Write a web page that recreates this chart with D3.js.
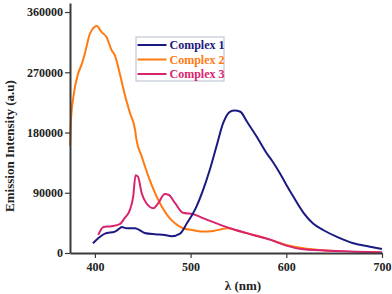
<!DOCTYPE html>
<html>
<head>
<meta charset="utf-8">
<script src="https://cdn.jsdelivr.net/npm/d3@7"></script>
<style>
  html, body { margin: 0; padding: 0; background: #fff; }
  svg { display: block; }
</style>
</head>
<body>
<div id="chart"></div>
<script>
/* Emission spectra of complexes 1-3 */
var seriesNames = ['Complex 1', 'Complex 2', 'Complex 3'];
var seriesColors = ['#1b1a80', '#ff7a10', '#d8246e'];

var c1Lambda = [398, 403.5, 410.5, 421, 426, 428, 433, 442, 452, 463, 473, 480, 489, 496, 506, 513, 520, 527, 534, 541, 546, 552, 559, 569, 579.5, 586, 593, 600, 607, 618, 628, 639, 653, 670, 687.5, 700];
var c1Value  = [14500, 22000, 29000, 32000, 37000, 39000, 37000, 37000, 30000, 28000, 27000, 25000, 29000, 44000, 69000, 94000, 124000, 159000, 194000, 211000, 213000, 211000, 196000, 174000, 149000, 136000, 120000, 102000, 85000, 60000, 44000, 34000, 24000, 14500, 9400, 6000];

var c2Lambda = [374, 375, 377.5, 382.5, 386, 389.5, 395, 402, 407, 412, 417.5, 421, 426, 431, 436.5, 442, 443.5, 449, 456, 463, 470, 477, 484, 492, 503, 513, 524, 539, 552, 565.5, 583, 600, 618, 635, 653];
var c2Value  = [160000, 198000, 233000, 268000, 281000, 298000, 328000, 339000, 330000, 323000, 303000, 295000, 268000, 238000, 210000, 184000, 169000, 144000, 114000, 89000, 69000, 54000, 44000, 37000, 34000, 32000, 33000, 37000, 32000, 27000, 20000, 12000, 7000, 4500, 3000];

var c3Lambda = [403.5, 409, 417.5, 426, 431, 436.5, 440, 442.5, 445, 449, 454, 461, 466, 473, 477, 484, 492, 503, 513, 531, 548, 565.5, 583, 600, 618, 653, 700];
var c3Value  = [27000, 39000, 40000, 43000, 52000, 64000, 84000, 116000, 114000, 89000, 74000, 67000, 74000, 88000, 87000, 74000, 60000, 58000, 52000, 42000, 34000, 27000, 20000, 11000, 5500, 3000, 1000];

var xTicks = [400, 500, 600, 700];
var yTicks = [0, 90000, 180000, 270000, 360000];

(function () {
  'use strict';

  var W = 392, H = 294;
  var margin = { top: 3, right: 10, bottom: 41, left: 70 };
  var innerW = W - margin.left - margin.right;
  var innerH = H - margin.top - margin.bottom;
  var font = '"Liberation Serif", "Times New Roman", serif';
  var axisColor = '#3a3a3a';

  var svg = d3.select('#chart').append('svg')
    .attr('width', W).attr('height', H);
  var g = svg.append('g')
    .attr('transform', 'translate(' + margin.left + ',' + margin.top + ')');

  var x = d3.scaleLinear().domain([374, 700]).range([0, innerW]);
  var y = d3.scaleLinear().domain([0, 373500]).range([innerH, 0]);

  /* curves */
  var series = [
    { lam: c1Lambda, val: c1Value },
    { lam: c2Lambda, val: c2Value },
    { lam: c3Lambda, val: c3Value }
  ];
  var line = d3.line()
    .curve(d3.curveMonotoneX)
    .x(function (d) { return x(d[0]); })
    .y(function (d) { return y(d[1]); });

  /* draw order: orange under pink, navy on top */
  [1, 2, 0].forEach(function (i) {
    var pts = series[i].lam.map(function (l, k) { return [l, series[i].val[k]]; });
    g.append('path')
      .datum(pts)
      .attr('d', line)
      .attr('fill', 'none')
      .attr('stroke', seriesColors[i])
      .attr('stroke-width', 2)
      .attr('stroke-linejoin', 'round');
  });

  /* axes */
  var xAxis = g.append('g')
    .attr('transform', 'translate(0,' + innerH + ')')
    .call(d3.axisBottom(x).tickValues(xTicks).tickSize(5).tickSizeOuter(0).tickPadding(4));
  var yAxis = g.append('g')
    .call(d3.axisLeft(y).tickValues(yTicks).tickSize(5).tickSizeOuter(0).tickPadding(2)
      .tickFormat(d3.format('d')));

  [xAxis, yAxis].forEach(function (ax) {
    ax.select('.domain').attr('stroke', axisColor).attr('stroke-width', 2);
    ax.selectAll('.tick line').attr('stroke', axisColor).attr('stroke-width', 1.2);
    ax.selectAll('.tick text')
      .attr('fill', '#222')
      .style('font-family', font)
      .style('font-size', '12px')
      .style('font-weight', 'bold');
  });

  /* axis titles */
  svg.append('text')
    .attr('transform', 'translate(14,146) rotate(-90)')
    .attr('text-anchor', 'middle')
    .style('font-family', font).style('font-size', '13px').style('font-weight', 'bold')
    .attr('fill', '#222')
    .text('Emission Intensity (a.u)');

  svg.append('text')
    .attr('x', 243).attr('y', 290)
    .attr('text-anchor', 'middle')
    .style('font-family', font).style('font-size', '13px').style('font-weight', 'bold')
    .attr('fill', '#222')
    .text('\u03bb (nm)');

  /* legend */
  var leg = svg.append('g').attr('transform', 'translate(136,37)');
  leg.append('rect')
    .attr('width', 88).attr('height', 44)
    .attr('fill', '#fff')
    .attr('stroke', '#b4bccb').attr('stroke-width', 1);
  seriesNames.forEach(function (name, i) {
    var yy = 8 + i * 14.5;
    leg.append('line')
      .attr('x1', 1.5).attr('x2', 30.5).attr('y1', yy).attr('y2', yy)
      .attr('stroke', seriesColors[i]).attr('stroke-width', 2);
    leg.append('text')
      .attr('x', 33.5).attr('y', yy + 4)
      .style('font-family', font).style('font-size', '12px').style('font-weight', 'bold')
      .attr('fill', seriesColors[i])
      .text(name);
  });
})();
</script>
</body>
</html>
